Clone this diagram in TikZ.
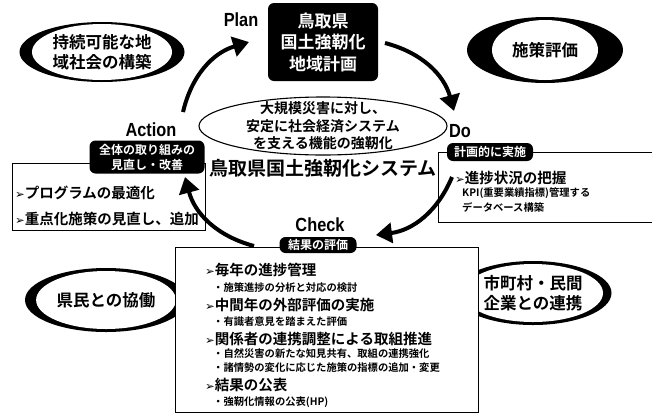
\documentclass[tikz,border=0pt]{standalone}
\usepackage{fontspec}
\setmainfont{Noto Sans CJK JP}[BoldFont={Noto Sans CJK JP Bold}]
\newfontfamily\latf{Liberation Sans}[FakeStretch=0.86]
\newfontfamily\symf{DejaVu Sans}
\usetikzlibrary{shapes.geometric,arrows.meta}
\newcommand\mk{{\symf\scalebox{0.8}{➢}}}
\newcommand\fs[1]{\fontsize{#1}{#1}\selectfont}
\newcommand\fsl[2]{\fontsize{#1}{#2}\selectfont}
\tikzset{
  outerell/.style={ellipse,fill=black,inner sep=0pt},
  innerell/.style={ellipse,fill=white,inner sep=0pt,align=center,font=\bfseries\fsl{16.5}{20}},
  blackbox/.style={fill=black,rounded corners=6pt,text=white,align=center,inner sep=0pt},
  panel/.style={draw=black,line width=1.3pt,fill=white},
  phase/.style={font=\latf\bfseries\fs{19}},
  item/.style={anchor=west,inner sep=0pt,font=\bfseries\fs{14.5}},
  sub/.style={anchor=west,inner sep=0pt,font=\bfseries\fs{10.3}},
  cyc/.style={line width=4pt,-{Triangle[length=16pt,width=20pt]},bend left=30},
}
\begin{document}
\begin{tikzpicture}[x=1pt,y=-1pt]
\useasboundingbox (0,0) rectangle (652,418);
\clip (0,0) rectangle (652,418);
\fill[white] (0,0) rectangle (652,418);

% corner ellipses
\node[outerell,minimum width=165,minimum height=60] (e1o) at (102,52) {};
\node[innerell,minimum width=106,minimum height=56] (e1) at (e1o) {持続可能な地\\域社会の構築};
\node[outerell,minimum width=156,minimum height=66] (e2o) at (545,50) {};
\node[innerell,minimum width=106,minimum height=60] (e2) at (e2o) {施策評価};
\node[outerell,minimum width=162,minimum height=64] (e3o) at (106,300) {};
\node[innerell,minimum width=106,minimum height=58] (e3) at (e3o) {県民との協働};
\node[outerell,minimum width=157,minimum height=64] (e4o) at (533,293) {};
\node[innerell,minimum width=106,minimum height=58] (e4) at (e4o) {市町村・民間\\企業との連携};

% Plan
\node[phase] (plan) at (241,20) {Plan};
\node[blackbox,minimum width=110,minimum height=78,font=\bfseries\fsl{17}{21.5}] (planbox) at (323,42) {鳥取県\\国土強靭化\\地域計画};

% center
\node[draw,ellipse,line width=1.1pt,minimum width=248,minimum height=58] (core) at (323,126) {};
\node[align=center,inner sep=0pt,font=\bfseries\fsl{14}{17.5}] (coretxt) at (323,126) {大規模災害に対し、\\安定に社会経済システム\\を支える機能の強靭化};
\node[inner sep=0pt,font=\bfseries\fs{19}] (system) at (323,168) {鳥取県国土強靭化システム};

% Action
\node[phase] (action) at (151,130) {Action};
\node[panel,anchor=north west,minimum width=193,minimum height=67] (actbox) at (12,163) {};
\node[blackbox,minimum width=115,minimum height=33,font=\bfseries\fsl{12}{15}] (actlab) at (147,157) {全体の取り組みの\\見直し・改善};
\node[item] (a1) at (15,193) {\mk プログラムの最適化};
\node[item] (a2) at (15,219) {\mk 重点化施策の見直し、追加};

% Do
\node[phase] (do) at (460,131) {Do};
\node[panel,anchor=north west,minimum width=230,minimum height=70] (dobox) at (438,152) {};
\node[blackbox,minimum width=86,minimum height=18,font=\bfseries\fs{12}] (dolab) at (490,152) {計画的に実施};
\node[item] (d1) at (455,178) {\mk 進捗状況の把握};
\node[sub] (d2) at (462,193) {KPI(重要業績指標)管理する};
\node[sub] (d3) at (462,207) {データベース構築};

% Check
\node[phase] (check) at (320,225) {Check};
\node[panel,anchor=north west,minimum width=303,minimum height=165] (chkbox) at (175,247) {};
\node[blackbox,minimum width=77,minimum height=16,font=\bfseries\fs{12}] (chklab) at (318,245) {結果の評価};
\node[item] (c1) at (205,270) {\mk 毎年の進捗管理};
\node[sub] (c2) at (213,288) {・施策進捗の分析と対応の検討};
\node[item] (c3) at (205,305) {\mk 中間年の外部評価の実施};
\node[sub] (c4) at (213,322) {・有識者意見を踏まえた評価};
\node[item] (c5) at (205,339) {\mk 関係者の連携調整による取組推進};
\node[sub] (c6) at (213,354) {・自然災害の新たな知見共有、取組の連携強化};
\node[sub] (c7) at (213,368) {・諸情勢の変化に応じた施策の指標の追加・変更};
\node[item] (c8) at (205,385) {\mk 結果の公表};
\node[sub] (c9) at (213,402) {・強靭化情報の公表(HP)};

% cycle arrows
\coordinate (a1s) at (183,112); \coordinate (a1e) at (249,42);
\coordinate (a2s) at (385,43);  \coordinate (a2e) at (454,111);
\coordinate (a3s) at (452,177); \coordinate (a3e) at (376,235);
\coordinate (a4s) at (254,246); \coordinate (a4e) at (185,177);
\draw[cyc] (a1s) to (a1e);
\draw[cyc] (a2s) to (a2e);
\draw[cyc] (a3s) to (a3e);
\draw[cyc] (a4s) to (a4e);
\end{tikzpicture}
\end{document}
